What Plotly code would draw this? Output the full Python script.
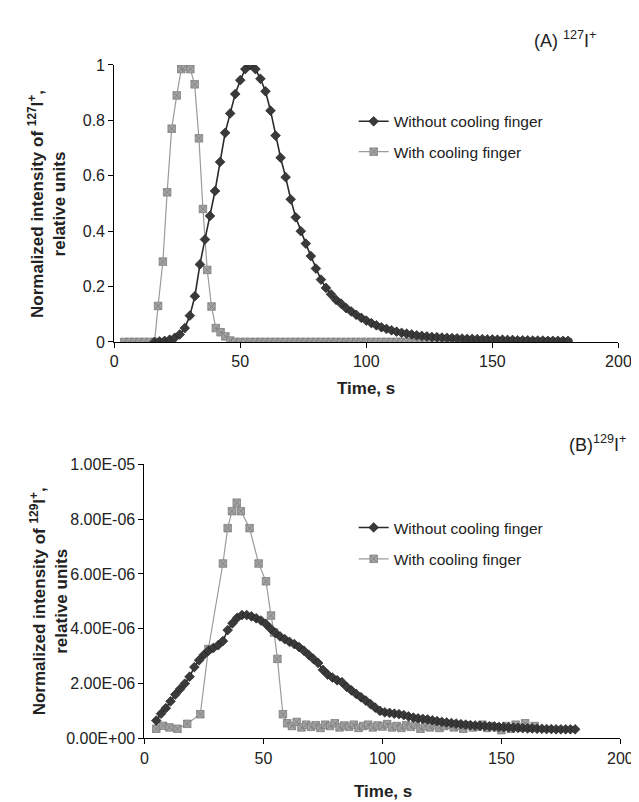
import plotly.graph_objects as go

# ---------------- Data: panel A (127I+) ----------------
a_without_t = [16, 18, 20, 22, 24, 26, 28, 30, 32, 34, 36, 38, 40, 42, 44, 46, 48, 50, 52, 54,
               56, 58, 60, 62, 64, 66, 68, 70, 72, 74, 76, 78, 80, 82, 84, 86, 88, 90, 92, 94,
               96, 98, 100, 102, 104, 106, 108, 110, 112, 114, 116, 118, 120, 122, 124, 126,
               128, 130, 132, 134, 136, 138, 140, 142, 144, 146, 148, 150, 152, 154, 156, 158,
               160, 162, 164, 166, 168, 170, 172, 174, 176, 178, 180]
a_without_v = [0.0, 0.002, 0.004, 0.008, 0.015, 0.027, 0.05, 0.095, 0.165, 0.28, 0.37, 0.455,
               0.545, 0.65, 0.755, 0.825, 0.895, 0.945, 0.985, 1.0, 0.985, 0.95, 0.905, 0.835,
               0.745, 0.665, 0.595, 0.515, 0.45, 0.40, 0.355, 0.31, 0.265, 0.225, 0.195, 0.172,
               0.152, 0.138, 0.122, 0.11, 0.098, 0.087, 0.077, 0.068, 0.060, 0.053, 0.047, 0.042,
               0.037, 0.033, 0.030, 0.027, 0.024, 0.022, 0.020, 0.018, 0.017, 0.016, 0.015, 0.014,
               0.013, 0.012, 0.011, 0.011, 0.010, 0.010, 0.009, 0.009, 0.008, 0.008, 0.007, 0.007,
               0.006, 0.006, 0.006, 0.005, 0.005, 0.005, 0.004, 0.004, 0.004, 0.004, 0.004]

a_with_t = [4, 6, 8, 10, 12, 14, 16, 17.4, 19.3, 21.0, 22.8, 24.8, 26.6, 28.3, 30.2, 31.9, 33.6,
            35.2, 36.9, 38.6, 40.3, 42.2, 44.1, 46, 48, 50, 52, 54, 56, 58, 60, 62, 64, 66, 68,
            70, 72, 74, 76, 78, 80, 82, 84, 86, 88, 90, 92, 94, 96, 98, 100, 102, 104, 106, 108,
            110, 112, 114, 116, 118, 120, 122, 124, 126, 128, 130, 132, 134, 136, 138, 140, 142,
            144, 146, 148, 150, 152, 154, 156, 158, 160, 162, 164, 166, 168, 170, 172, 174, 176,
            178, 180]
a_with_v = [0, 0, 0, 0, 0, 0, 0, 0.13, 0.29, 0.54, 0.77, 0.89, 0.985, 0.995, 0.985, 0.93, 0.735,
            0.48, 0.26, 0.128, 0.05, 0.035, 0.02, 0.005] + [0] * 67

# ---------------- Data: panel B (129I+) ----------------
b_without_t = [5, 7, 9, 11, 13, 15, 17, 19, 21, 23, 25, 27, 29, 31, 33, 35, 37, 39, 41, 43, 45,
               47, 49, 51, 53, 55, 57, 59, 61, 63, 65, 67, 69, 71, 73, 75, 77, 79, 81, 83, 85,
               87, 89, 91, 93, 95, 97, 99, 101, 103, 105, 107, 109, 111, 113, 115, 117, 119, 121,
               123, 125, 127, 129, 131, 133, 135, 137, 139, 141, 143, 145, 147, 149, 151, 153,
               155, 157, 159, 161, 163, 165, 167, 169, 171, 173, 175, 177, 179, 181]
b_without_v = [0.65, 0.9, 1.1, 1.35, 1.6, 1.8, 2.0, 2.25, 2.6, 2.85, 3.05, 3.2, 3.3, 3.4, 3.55,
               3.95, 4.2, 4.4, 4.5, 4.5, 4.45, 4.38, 4.3, 4.18, 4.0, 3.85, 3.72, 3.62, 3.52, 3.44,
               3.33, 3.2, 3.05, 2.9, 2.75, 2.5, 2.33, 2.22, 2.12, 2.05, 1.88, 1.75, 1.62, 1.5,
               1.38, 1.25, 1.12, 1.0, 0.95, 0.93, 0.9, 0.88, 0.85, 0.8, 0.76, 0.73, 0.71, 0.69,
               0.66, 0.63, 0.6, 0.58, 0.56, 0.54, 0.52, 0.5, 0.48, 0.47, 0.46, 0.45, 0.44, 0.43,
               0.42, 0.41, 0.40, 0.39, 0.38, 0.37, 0.36, 0.36, 0.35, 0.35, 0.34, 0.34, 0.33,
               0.33, 0.33, 0.33, 0.33]
b_without_v = [v * 1e-6 for v in b_without_v]

b_with_t = [5, 7.8, 10.5, 13.9, 18, 23.5, 26.9, 33, 35, 36.8, 38.8, 40.5, 44.2, 48, 51.1, 53.2,
            54.5, 55.9, 58.2, 60, 62, 64, 66, 68, 70, 72, 74, 76, 78, 80, 82, 84, 86, 88, 90,
            92, 94, 96, 98, 100, 102, 104, 106, 108, 110, 112, 114, 116, 118, 120, 122, 124,
            126, 128, 130, 132, 134, 136, 138, 140, 142, 144, 146, 148, 150, 152, 154, 156,
            158, 160, 162, 164]
b_with_v = [0.35, 0.46, 0.4, 0.35, 0.53, 0.88, 3.26, 6.38, 7.67, 8.29, 8.6, 8.29, 7.67, 6.38,
            5.73, 4.48, 3.86, 2.9, 0.88, 0.55, 0.45, 0.6, 0.4, 0.5, 0.42, 0.48, 0.38, 0.5, 0.45,
            0.55, 0.4, 0.47, 0.42, 0.5, 0.38, 0.45, 0.5, 0.4, 0.47, 0.43, 0.52, 0.4, 0.45, 0.38,
            0.48, 0.42, 0.5, 0.35, 0.45, 0.4, 0.48, 0.38, 0.45, 0.5, 0.4, 0.45, 0.35, 0.48, 0.4,
            0.42, 0.5, 0.38, 0.45, 0.4, 0.3, 0.45, 0.35, 0.5, 0.4, 0.55, 0.38, 0.45]
b_with_v = [v * 1e-6 for v in b_with_v]

x_ticks = [0, 50, 100, 150, 200]
a_y_ticks = [0, 0.2, 0.4, 0.6, 0.8, 1]
a_y_text = ["0", "0.2", "0.4", "0.6", "0.8", "1"]
b_y_ticks = [0, 2e-6, 4e-6, 6e-6, 8e-6, 1e-5]
b_y_text = ["0.00E+00", "2.00E-06", "4.00E-06", "6.00E-06", "8.00E-06", "1.00E-05"]

legend_names = ["Without cooling finger", "With cooling finger"]

# ---------------- Figure ----------------
W, H = 639, 802
FONT = "Liberation Sans, Arial, sans-serif"
BLACK = "#2b2b2b"
GREY = "#9b9b9b"
TXT = "#222"

fig = go.Figure()


def black_trace(x, y, xa, ya, leg):
    return go.Scatter(x=x, y=y, xaxis=xa, yaxis=ya, mode="lines+markers",
                      name=legend_names[0], legend=leg,
                      line=dict(color=BLACK, width=1.6),
                      marker=dict(symbol="diamond", size=7.5, color="#3a3a3a",
                                  line=dict(color="#1a1a1a", width=0.6)))


def grey_trace(x, y, xa, ya, leg):
    return go.Scatter(x=x, y=y, xaxis=xa, yaxis=ya, mode="lines+markers",
                      name=legend_names[1], legend=leg,
                      line=dict(color=GREY, width=1.2),
                      marker=dict(symbol="square-x", size=7.5, color="#a3a3a3",
                                  line=dict(color="#7d7d7d", width=0.8)))


fig.add_trace(grey_trace(a_with_t, a_with_v, "x", "y", "legend2"))
fig.add_trace(black_trace(a_without_t, a_without_v, "x", "y", "legend"))
fig.add_trace(grey_trace(b_with_t, b_with_v, "x2", "y2", "legend4"))
fig.add_trace(black_trace(b_without_t, b_without_v, "x2", "y2", "legend3"))


def px_x(p):
    return p / W


def px_y(p):
    return 1 - p / H


axis_common = dict(showgrid=False, zeroline=False, showline=True, linecolor="black",
                   linewidth=1, ticks="outside", ticklen=5, tickcolor="black",
                   tickfont=dict(family=FONT, size=16, color=TXT))


def leg(ypix):
    return dict(x=px_x(351), y=px_y(ypix), xanchor="left", yanchor="middle",
                font=dict(family=FONT, size=15.5, color=TXT),
                bgcolor="rgba(0,0,0,0)", itemwidth=30)


fig.update_layout(
    width=W, height=H,
    margin=dict(l=0, r=0, t=0, b=0),
    paper_bgcolor="white", plot_bgcolor="white",
    font=dict(family=FONT, color=TXT),
    xaxis=dict(domain=[px_x(105), px_x(623)], range=[0, 200], tickvals=x_ticks,
               anchor="y", **axis_common),
    yaxis=dict(domain=[px_y(333), px_y(50)], range=[0, 1], tickvals=a_y_ticks,
               ticktext=a_y_text, anchor="x", **axis_common),
    xaxis2=dict(domain=[px_x(136), px_x(625)], range=[0, 200], tickvals=x_ticks,
                anchor="y2", **axis_common),
    yaxis2=dict(domain=[px_y(738), px_y(458)], range=[0, 1e-5], tickvals=b_y_ticks,
                ticktext=b_y_text, anchor="x2", **axis_common),
    legend=leg(108),
    legend2=leg(139),
    legend3=leg(523),
    legend4=leg(555),
    showlegend=True,
)

annots = [
    dict(text="Time, s", x=px_x(364), y=px_y(381)),
    dict(text="Time, s", x=px_x(381), y=px_y(792)),
]
for a in annots:
    fig.add_annotation(text="<b>" + a["text"] + "</b>", x=a["x"], y=a["y"], xref="paper",
                       yref="paper", showarrow=False, xanchor="center", yanchor="middle",
                       font=dict(family=FONT, size=17, color=TXT))

fig.add_annotation(text="<b>Normalized intensity of <sup>127</sup>I<sup>+</sup>,<br>relative units</b>",
                   x=px_x(36), y=px_y(192), xref="paper", yref="paper", showarrow=False,
                   textangle=-90, xanchor="center", yanchor="middle",
                   font=dict(family=FONT, size=17, color=TXT))
fig.add_annotation(text="<b>Normalized intensity of <sup>129</sup>I<sup>+</sup>,<br>relative units</b>",
                   x=px_x(38), y=px_y(598), xref="paper", yref="paper", showarrow=False,
                   textangle=-90, xanchor="center", yanchor="middle",
                   font=dict(family=FONT, size=17, color=TXT))

fig.add_annotation(text="(A) <sup>127</sup>I<sup>+</sup>", x=px_x(602), y=px_y(24),
                   xref="paper", yref="paper", showarrow=False, xanchor="right",
                   yanchor="middle", font=dict(family=FONT, size=18, color=TXT))
fig.add_annotation(text="(B)<sup>129</sup>I<sup>+</sup>", x=px_x(633), y=px_y(437),
                   xref="paper", yref="paper", showarrow=False, xanchor="right",
                   yanchor="middle", font=dict(family=FONT, size=18, color=TXT))

fig.write_html("out.html")
